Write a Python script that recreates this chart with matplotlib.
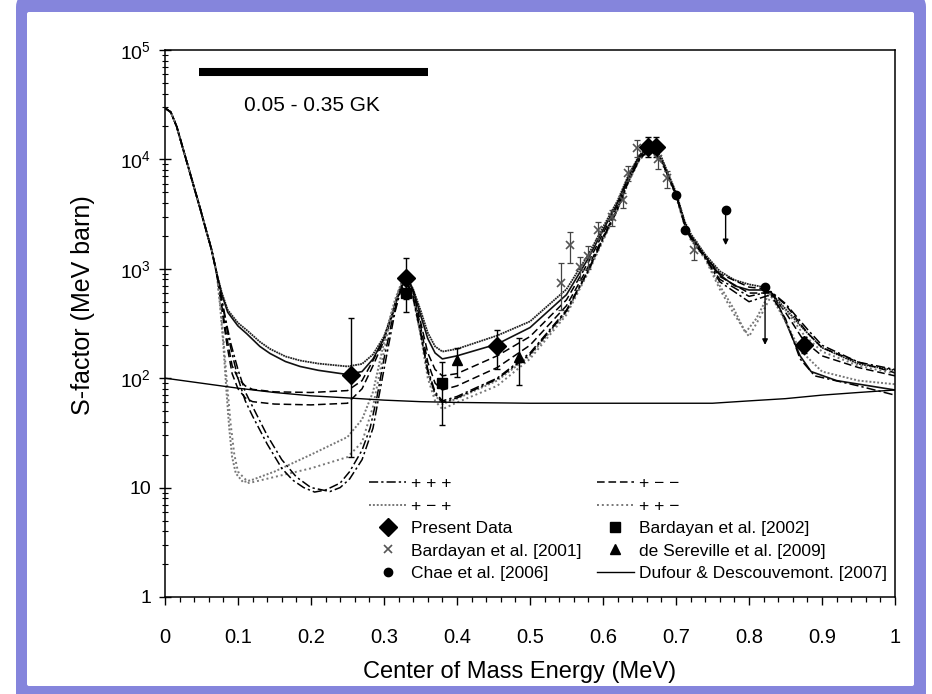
import matplotlib
matplotlib.use("Agg")
import matplotlib.pyplot as plt
from matplotlib.patches import FancyBboxPatch
from matplotlib.ticker import FixedLocator, FixedFormatter, MultipleLocator, LogLocator, NullFormatter

plt.rcParams['font.family'] = ['Liberation Sans', 'DejaVu Sans']
plt.rcParams['mathtext.default'] = 'regular'

# ---- data (x in MeV, S in MeV barn) ----
# all R-matrix curves share the steep start, then split up
HEAD_X = [0.0, 0.008, 0.016, 0.024, 0.032, 0.040, 0.048, 0.056, 0.064, 0.071]
HEAD_Y = [29500, 27000, 20000, 13000, 8500, 5500, 3600, 2300, 1480, 900]
# main resonance region, sampled at the same energies for every curve
MID_X = [0.50, 0.55, 0.58, 0.60, 0.62, 0.635, 0.65, 0.665, 0.68, 0.70, 0.712, 0.72, 0.74, 0.76]

up_left_x = [0.078, 0.086, 0.10, 0.112, 0.13, 0.144, 0.165, 0.185, 0.21, 0.25, 0.27, 0.285, 0.30,
             0.31, 0.32, 0.33, 0.34, 0.35, 0.36, 0.37, 0.38, 0.40, 0.455]
up1_left_y = [600, 420, 320, 275, 215, 185, 158, 145, 136, 128, 135, 165, 240,
              370, 620, 880, 650, 420, 260, 195, 175, 185, 245]
up1_mid_y = [330, 650, 1350, 2400, 4200, 7200, 11000, 13500, 10500, 5000, 2700, 2100, 1350, 950]
up1_right_x = [0.78, 0.80, 0.815, 0.83, 0.85, 0.875, 0.90, 0.95, 1.0]
up1_right_y = [790, 720, 690, 600, 430, 280, 190, 135, 118]

up2_left_y = [580, 400, 300, 255, 195, 168, 142, 128, 118, 108, 115, 150, 230,
              360, 600, 860, 640, 380, 230, 170, 150, 160, 205]
up2_mid_y = [290, 580, 1250, 2250, 4000, 7000, 10800, 13000, 10000, 4800, 2600, 2000, 1300, 880]
up2_right_x = [0.78, 0.80, 0.82, 0.835, 0.85, 0.87, 0.885, 0.92, 1.0]
up2_right_y = [700, 640, 640, 560, 330, 160, 115, 95, 78]

dash_left_x = [0.078, 0.085, 0.092, 0.10, 0.11, 0.12, 0.15, 0.20, 0.25, 0.27, 0.285, 0.30, 0.31,
               0.32, 0.33, 0.34, 0.35, 0.36, 0.37, 0.38, 0.40, 0.455]
dash1_left_y = [450, 230, 130, 100, 85, 79, 75, 74, 77, 95, 145, 230, 360,
                590, 840, 620, 330, 170, 120, 105, 110, 160]
dash1_mid_y = [240, 520, 1150, 2100, 3800, 6700, 10500, 12800, 10000, 4900, 2600, 2000, 1300, 900]
dash1_right_x = [0.80, 0.825, 0.85, 0.88, 0.90, 0.95, 1.0]
dash1_right_y = [680, 650, 470, 260, 190, 140, 112]

dash2_left_y = [420, 200, 110, 80, 66, 61, 58, 57, 59, 80, 130, 220, 350,
                580, 820, 600, 300, 140, 90, 78, 85, 125]
dash2_mid_y = [200, 460, 1050, 1950, 3600, 6500, 10200, 12500, 9800, 4800, 2550, 1950, 1280, 850]
dash2_right_x = [0.80, 0.83, 0.85, 0.875, 0.90, 0.95, 1.0]
dash2_right_y = [600, 600, 400, 220, 160, 125, 105]

dot1_left_x = [0.076, 0.08, 0.084, 0.088, 0.092, 0.097, 0.107, 0.12, 0.15, 0.20, 0.25, 0.27, 0.285,
               0.295, 0.305, 0.315, 0.325, 0.33, 0.34, 0.35, 0.36, 0.37, 0.38, 0.40, 0.455]
dot1_left_y = [420, 200, 80, 35, 19, 13.5, 11.2, 11.8, 14, 20, 29, 42, 75,
               150, 300, 520, 780, 820, 560, 260, 110, 70, 58, 65, 95]
dot1_mid_y = [160, 400, 950, 1850, 3500, 6300, 10000, 12500, 9800, 4700, 2500, 1900, 1250, 700]
dot1_right_x = [0.78, 0.795, 0.81, 0.828, 0.85, 0.87, 0.90, 0.95, 1.0]
dot1_right_y = [420, 260, 350, 600, 330, 180, 115, 95, 88]

dot2_left_x = [0.076, 0.08, 0.085, 0.09, 0.095, 0.10, 0.115, 0.15, 0.20, 0.25, 0.27, 0.285, 0.295,
               0.305, 0.315, 0.325, 0.33, 0.34, 0.35, 0.36, 0.37, 0.38, 0.40, 0.455]
dot2_left_y = [450, 230, 90, 38, 20, 14, 11, 12.5, 15, 19, 26, 55, 120,
               260, 480, 760, 800, 540, 250, 100, 62, 52, 60, 85]
dot2_mid_y = [150, 380, 930, 1800, 3450, 6200, 9900, 12300, 9600, 4600, 2450, 1850, 1230, 650]
dot2_right_x = [0.78, 0.80, 0.815, 0.83, 0.85, 0.875, 0.90, 0.95, 1.0]
dot2_right_y = [380, 240, 360, 560, 420, 250, 175, 130, 110]

dd1_left_x = [0.078, 0.085, 0.09, 0.10, 0.11, 0.12, 0.14, 0.16, 0.175, 0.19, 0.205, 0.22, 0.24, 0.253,
              0.27, 0.281, 0.29, 0.30, 0.31, 0.32, 0.33, 0.34, 0.35, 0.36, 0.37, 0.38, 0.40, 0.455]
dd1_left_y = [500, 280, 190, 100, 62, 45, 25, 15, 11.7, 10, 9.1, 9.5, 11, 14,
              22, 35, 65, 150, 310, 560, 800, 560, 270, 120, 75, 62, 68, 100]
dd1_mid_y = [170, 420, 980, 1900, 3550, 6400, 10100, 12700, 9900, 4800, 2550, 1950, 1260, 760]
dd1_right_x = [0.80, 0.83, 0.85, 0.87, 0.89, 0.95, 1.0]
dd1_right_y = [500, 580, 350, 150, 105, 85, 70]

dd2_left_x = [0.078, 0.085, 0.09, 0.10, 0.11, 0.12, 0.14, 0.16, 0.18, 0.20, 0.226, 0.24, 0.253, 0.27,
              0.285, 0.295, 0.305, 0.315, 0.325, 0.33, 0.34, 0.35, 0.36, 0.37, 0.38, 0.40, 0.455]
dd2_left_y = [520, 300, 210, 120, 75, 55, 30, 18, 12.5, 10, 9.2, 10, 12, 18,
              35, 80, 180, 400, 720, 790, 540, 260, 115, 72, 60, 66, 98]
dd2_mid_y = [165, 410, 960, 1880, 3500, 6350, 10000, 12600, 9800, 4750, 2500, 1900, 1260, 800]
dd2_right_x = [0.80, 0.83, 0.85, 0.88, 0.90, 0.95, 1.0]
dd2_right_y = [560, 620, 480, 280, 200, 140, 120]

dufour_x = [0.0, 0.05, 0.1, 0.15, 0.2, 0.25, 0.3, 0.35, 0.4, 0.5, 0.6, 0.7, 0.75, 0.8, 0.85, 0.9, 0.95, 1.0]
dufour_y = [100, 90, 81, 74, 69, 66, 63, 61, 60, 59, 59, 59, 59, 62, 65, 70, 74, 78]

present_x = [0.255, 0.33, 0.455, 0.662, 0.673, 0.875]
present_y = [107, 830, 197, 13000, 13000, 200]
present_lo = [88, 300, 75, 2500, 2500, 30]
present_hi = [250, 420, 80, 3000, 3000, 40]

b2002_x = [0.33, 0.38]
b2002_y = [600, 90]
b2002_lo = [200, 53]
b2002_hi = [250, 51]

b2001_x = [0.543, 0.555, 0.568, 0.58, 0.593, 0.612, 0.628, 0.634, 0.646, 0.675, 0.688, 0.725]
b2001_y = [740, 1650, 1040, 1300, 2260, 2960, 4270, 7520, 12600, 10000, 6700, 1500]
b2001_lo = [320, 530, 250, 300, 400, 500, 700, 1200, 2000, 1800, 1200, 300]
b2001_hi = [400, 530, 250, 300, 400, 500, 700, 1200, 2500, 2000, 1200, 300]

des_x = [0.40, 0.485]
des_y = [147, 155]
des_lo = [45, 68]
des_hi = [43, 80]

chae_x = [0.70, 0.712]
chae_y = [4700, 2260]
chae_lim_x = [0.768, 0.822]
chae_lim_y = [3470, 680]
chae_lim_to = [1550, 190]

bar_x = [0.047, 0.36]
bar_y = [6.3e4, 6.3e4]

# ---- figure ----
fig = plt.figure(figsize=(9.32, 6.94), dpi=100)
outer = FancyBboxPatch((0.16, -0.3), 9.10, 7.29, boxstyle="round,pad=0,rounding_size=0.12",
                       transform=fig.dpi_scale_trans, facecolor="#8585DC", edgecolor="none", zorder=-5)
inner = FancyBboxPatch((0.27, 0.08), 8.87, 6.74, boxstyle="round,pad=0,rounding_size=0.02",
                       transform=fig.dpi_scale_trans, facecolor="white", edgecolor="none", zorder=-4)
fig.add_artist(outer)
fig.add_artist(inner)

ax = fig.add_axes([0.1770, 0.1398, 0.7833, 0.7882])
ax.set_yscale('log')
ax.set_xlim(0, 1)
ax.set_ylim(1, 1e5)

lw = 1.1
s_ppp = dict(color='black', linestyle=(0, (6, 2, 1.5, 2)), lw=lw)
s_pmm = dict(color='black', linestyle=(0, (5, 2.5)), lw=lw)
s_pmp = dict(color='#777777', linestyle=(0, (1, 1)), lw=lw + 0.3)
s_ppm = dict(color='#777777', linestyle=(0, (1, 1.5)), lw=lw + 0.3)


def curve(left_x, left_y, mid_y, right_x, right_y):
    return HEAD_X + left_x + MID_X + right_x, HEAD_Y + left_y + mid_y + right_y


x, y = curve(up_left_x, up1_left_y, up1_mid_y, up1_right_x, up1_right_y)
ax.plot(x, y, color='#222222', linestyle=(0, (1, 0.4)), lw=1.3)
x, y = curve(up_left_x, up2_left_y, up2_mid_y, up2_right_x, up2_right_y)
ax.plot(x, y, color='#111111', lw=1.2)
x, y = curve(dash_left_x, dash1_left_y, dash1_mid_y, dash1_right_x, dash1_right_y)
h_pmm, = ax.plot(x, y, label='+ \u2212 \u2212', **s_pmm)
x, y = curve(dash_left_x, dash2_left_y, dash2_mid_y, dash2_right_x, dash2_right_y)
ax.plot(x, y, **s_pmm)
x, y = curve(dot1_left_x, dot1_left_y, dot1_mid_y, dot1_right_x, dot1_right_y)
h_pmp, = ax.plot(x, y, label='+ \u2212 +', **s_pmp)
x, y = curve(dot2_left_x, dot2_left_y, dot2_mid_y, dot2_right_x, dot2_right_y)
h_ppm, = ax.plot(x, y, label='+ + \u2212', **s_ppm)
x, y = curve(dd1_left_x, dd1_left_y, dd1_mid_y, dd1_right_x, dd1_right_y)
h_ppp, = ax.plot(x, y, label='+ + +', **s_ppp)
x, y = curve(dd2_left_x, dd2_left_y, dd2_mid_y, dd2_right_x, dd2_right_y)
ax.plot(x, y, **s_ppp)
h_duf, = ax.plot(dufour_x, dufour_y, color='black', lw=1.0, label='Dufour & Descouvemont. [2007]')

eb = dict(fmt='none', ecolor='black', elinewidth=1.0, capsize=2.5, capthick=1.0)
ax.errorbar(present_x, present_y, yerr=[present_lo, present_hi], **eb)
ax.errorbar(b2002_x, b2002_y, yerr=[b2002_lo, b2002_hi], **eb)
ax.errorbar(b2001_x, b2001_y, yerr=[b2001_lo, b2001_hi], fmt='none', ecolor='#444444',
            elinewidth=0.9, capsize=2.5, capthick=0.9)
ax.errorbar(des_x, des_y, yerr=[des_lo, des_hi], **eb)

h_pres, = ax.plot(present_x, present_y, 'D', color='black', ms=9, ls='none', label='Present Data')
h_b02, = ax.plot(b2002_x, b2002_y, 's', color='black', ms=7, ls='none', label='Bardayan et al. [2002]')
h_b01, = ax.plot(b2001_x, b2001_y, 'x', color='#555555', ms=6, mew=1.2, ls='none',
                 label='Bardayan et al. [2001]')
h_des, = ax.plot(des_x, des_y, '^', color='black', ms=7, ls='none', label='de Sereville et al. [2009]')
h_chae, = ax.plot(chae_x, chae_y, 'o', color='black', ms=6, ls='none', label='Chae et al. [2006]')
ax.plot(chae_lim_x, chae_lim_y, 'o', color='black', ms=6, ls='none')
for xv, yv, yt in zip(chae_lim_x, chae_lim_y, chae_lim_to):
    ax.annotate('', xy=(xv, yt), xytext=(xv, yv),
                arrowprops=dict(arrowstyle='-|>', color='black', lw=1.0, mutation_scale=8))

ax.plot(bar_x, bar_y, color='black', lw=5.8, solid_capstyle='butt')
ax.text(0.201, 3.1e4, '0.05 - 0.35 GK', ha='center', va='center', fontsize=15)

# ticks
ax.set_xticks([0, 0.1, 0.2, 0.3, 0.4, 0.5, 0.6, 0.7, 0.8, 0.9, 1.0])
ax.set_xticklabels(['0', '0.1', '0.2', '0.3', '0.4', '0.5', '0.6', '0.7', '0.8', '0.9', '1'])
ax.xaxis.set_minor_locator(MultipleLocator(0.02))
ax.yaxis.set_major_locator(FixedLocator([1, 10, 100, 1e3, 1e4, 1e5]))
ax.yaxis.set_major_formatter(FixedFormatter(['1', '10', '$10^2$', '$10^3$', '$10^4$', '$10^5$']))
ax.yaxis.set_minor_locator(LogLocator(base=10, subs=range(2, 10)))
ax.yaxis.set_minor_formatter(NullFormatter())
ax.tick_params(axis='x', which='major', direction='out', length=6, width=1, labelsize=14.5, pad=16)
ax.tick_params(axis='x', which='minor', direction='out', length=3.5, width=0.9)
ax.tick_params(axis='y', which='major', direction='inout', length=8, width=1, labelsize=14, pad=6)
ax.tick_params(axis='y', which='minor', direction='inout', length=5, width=0.8)
for sp in ax.spines.values():
    sp.set_linewidth(1.1)

ax.set_xlabel('Center of Mass Energy (MeV)', fontsize=17)
ax.set_ylabel('S-factor (MeV barn)', fontsize=18)
ax.xaxis.set_label_coords(0.486, -0.117)
ax.yaxis.set_label_coords(-0.096, 0.534)

handles = [h_ppp, h_pmp, h_pres, h_b01, h_chae, h_pmm, h_ppm, h_b02, h_des, h_duf]
ax.legend(handles=handles, loc='upper left', bbox_to_anchor=(0.28, 0.221), ncol=2, frameon=False,
          fontsize=12.5, handlelength=2.1, handletextpad=0.3, labelspacing=0.42, columnspacing=0.9,
          borderpad=0, borderaxespad=0)

fig.savefig('out.png', dpi=100)
